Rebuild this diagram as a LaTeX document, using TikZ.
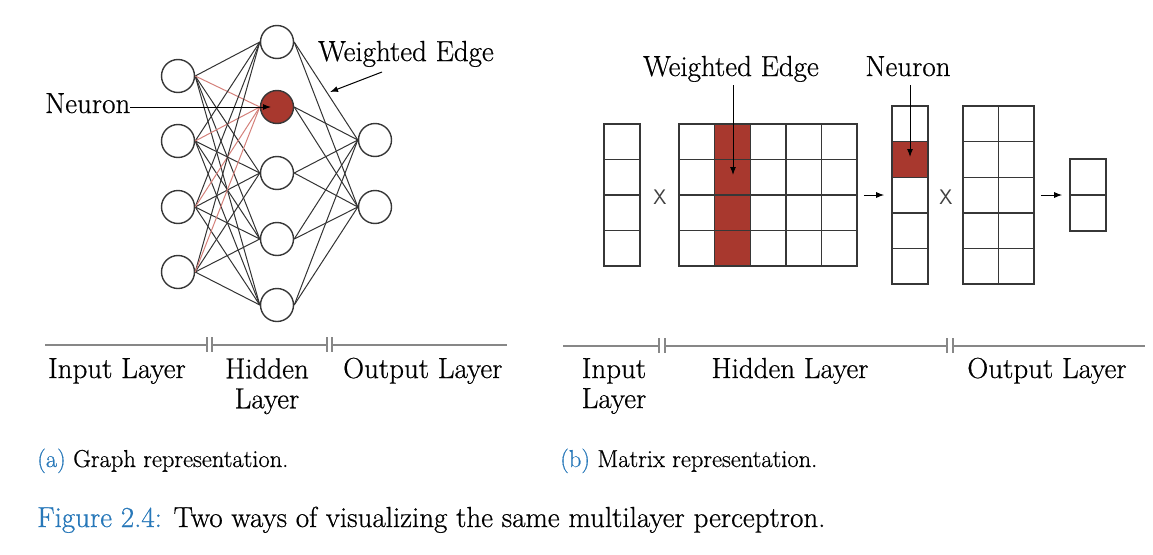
\documentclass[tikz,border=0pt]{standalone}
\usepackage{fontspec}
\setmainfont{Latin Modern Roman}[FakeBold=0.6]
\usetikzlibrary{arrows.meta}
\definecolor{nred}{RGB}{168,56,46}
\definecolor{ered}{RGB}{212,128,122}
\definecolor{cblue}{RGB}{40,120,185}
\definecolor{divgray}{RGB}{135,135,135}
\definecolor{strokec}{RGB}{55,55,55}
\begin{document}
\begin{tikzpicture}[x=1pt,y=-1pt,
  lbl/.style={font=\fontsize{29}{30}\selectfont, inner sep=0pt},
  sublbl/.style={font=\fontsize{24.5}{26}\selectfont, inner sep=0pt},
  neuron/.style={circle, draw=strokec, line width=1.4pt, fill=white, minimum size=33pt, inner sep=0pt},
  edge/.style={draw=black!80, line width=1pt},
  redge/.style={draw=ered, line width=1pt},
  arr/.style={-{Latex[length=8pt,width=6pt]}, line width=1pt, draw=black},
  mat/.style={draw=strokec, line width=1.6pt, inner sep=0pt},
  gridl/.style={draw=strokec, line width=1.4pt},
  divl/.style={draw=divgray, line width=1.8pt},
  tickl/.style={draw=divgray, line width=1.2pt},
  timesl/.style={font=\sffamily\fontsize{21}{22}\selectfont, text=black!75, inner sep=0pt}]
\useasboundingbox (0,0) rectangle (1153,554);

% ---------- (a) graph ----------
\foreach \n/\y in {1/76,2/141,3/207,4/272} \node[neuron] (i\n) at (178,\y) {};
\foreach \n/\y in {1/42,3/173,4/239,5/305} \node[neuron] (h\n) at (277,\y) {};
\node[neuron, fill=nred] (h2) at (277,107) {};
\foreach \n/\y in {1/140,2/207} \node[neuron] (o\n) at (375,\y) {};

\foreach \i in {1,...,4} {
  \foreach \h in {1,3,4,5} \draw[edge] (i\i.east) -- (h\h.west);
  \draw[redge] (i\i.east) -- (h2.west);
}
\foreach \h in {1,...,5} \foreach \o in {1,2} \draw[edge] (h\h.east) -- (o\o.west);

\node[lbl, anchor=base west] (nlbl) at (45,113) {Neuron};
\draw[arr, shorten >=6pt] (nlbl.east |- h2.center) -- (h2.center);

\node[lbl, anchor=base west] (welbl) at (318,61) {Weighted Edge};
\coordinate (we1) at (382,72);
\coordinate (we2) at (330,92);
\draw[arr] (we1) -- (we2);

% divider (a)
\draw[divl] (45,345) -- (207,345);
\draw[divl] (212,345) -- (327,345);
\draw[divl] (332,345) -- (507,345);
\foreach \x in {207,212,327,332} \draw[tickl] (\x,337) -- (\x,352);

\node[lbl, anchor=base west] (ainp) at (48,378) {Input Layer};
\node[lbl, anchor=north, align=center] (ahid) at (267,358) {Hidden\\Layer};
\node[lbl, anchor=base west] (aout) at (343,378) {Output Layer};

% ---------- (b) matrices ----------
\fill[nred] (714.6,124) rectangle (750.2,266);
\fill[nred] (892,141.6) rectangle (928,177.2);

\node[mat, minimum width=36pt, minimum height=142pt] (iv) at (622,195) {};
\foreach \y in {159.5,195,230.5} \draw[gridl] (604,\y) -- (640,\y);

\node[timesl] (x1) at (660,197) {X};

\node[mat, minimum width=178pt, minimum height=142pt] (hm) at (768,195) {};
\foreach \y in {159.5,195,230.5} \draw[gridl] (679,\y) -- (857,\y);
\foreach \x in {714.6,750.2,785.8,821.4} \draw[gridl] (\x,124) -- (\x,266);

\node[mat, minimum width=36pt, minimum height=178pt] (hv) at (910,195) {};
\foreach \y in {141.6,177.2,212.8,248.4} \draw[gridl] (892,\y) -- (928,\y);

\node[timesl] (x2) at (946,197) {X};

\node[mat, minimum width=71pt, minimum height=178pt] (om) at (998.5,195) {};
\foreach \y in {141.6,177.2,212.8,248.4} \draw[gridl] (963,\y) -- (1034,\y);
\draw[gridl] (998.5,106) -- (998.5,284);

\node[mat, minimum width=36pt, minimum height=72pt] (ov) at (1088,195) {};
\draw[gridl] (1070,195) -- (1106,195);

\draw[arr] ([xshift=6pt]hm.east) -- ([xshift=-7pt]hv.west);
\draw[arr] ([xshift=6pt]om.east) -- ([xshift=-7pt]ov.west);

\node[lbl, anchor=base] (wlbl) at (731,76) {Weighted Edge};
\node[lbl, anchor=base] (nlbl2) at (908,76) {Neuron};
\coordinate (wtip) at (733,175);
\coordinate (ntip) at (910,157);
\draw[arr] (wtip |- wlbl.south) ++(0,3) -- (wtip);
\draw[arr] (ntip |- nlbl2.south) ++(0,9) -- (ntip);

% divider (b)
\draw[divl] (563,346) -- (659,346);
\draw[divl] (665,346) -- (947,346);
\draw[divl] (953,346) -- (1145,346);
\foreach \x in {659,665,947,953} \draw[tickl] (\x,338) -- (\x,353);

\node[lbl, anchor=north, align=center] (binp) at (614,358) {Input\\Layer};
\node[lbl, anchor=base] (bhid) at (790,378) {Hidden Layer};
\node[lbl, anchor=base] (bout) at (1047,378) {Output Layer};

% ---------- captions ----------
\node[sublbl, anchor=base west] (capa) at (37,467) {{\color{cblue}(a)} Graph representation.};
\node[sublbl, anchor=base west] (capb) at (560,467) {{\color{cblue}(b)} Matrix representation.};
\node[lbl, anchor=base west] (cap) at (37,527) {{\color{cblue}Figure 2.4:} Two ways of visualizing the same multilayer perceptron.};
\end{tikzpicture}
\end{document}
